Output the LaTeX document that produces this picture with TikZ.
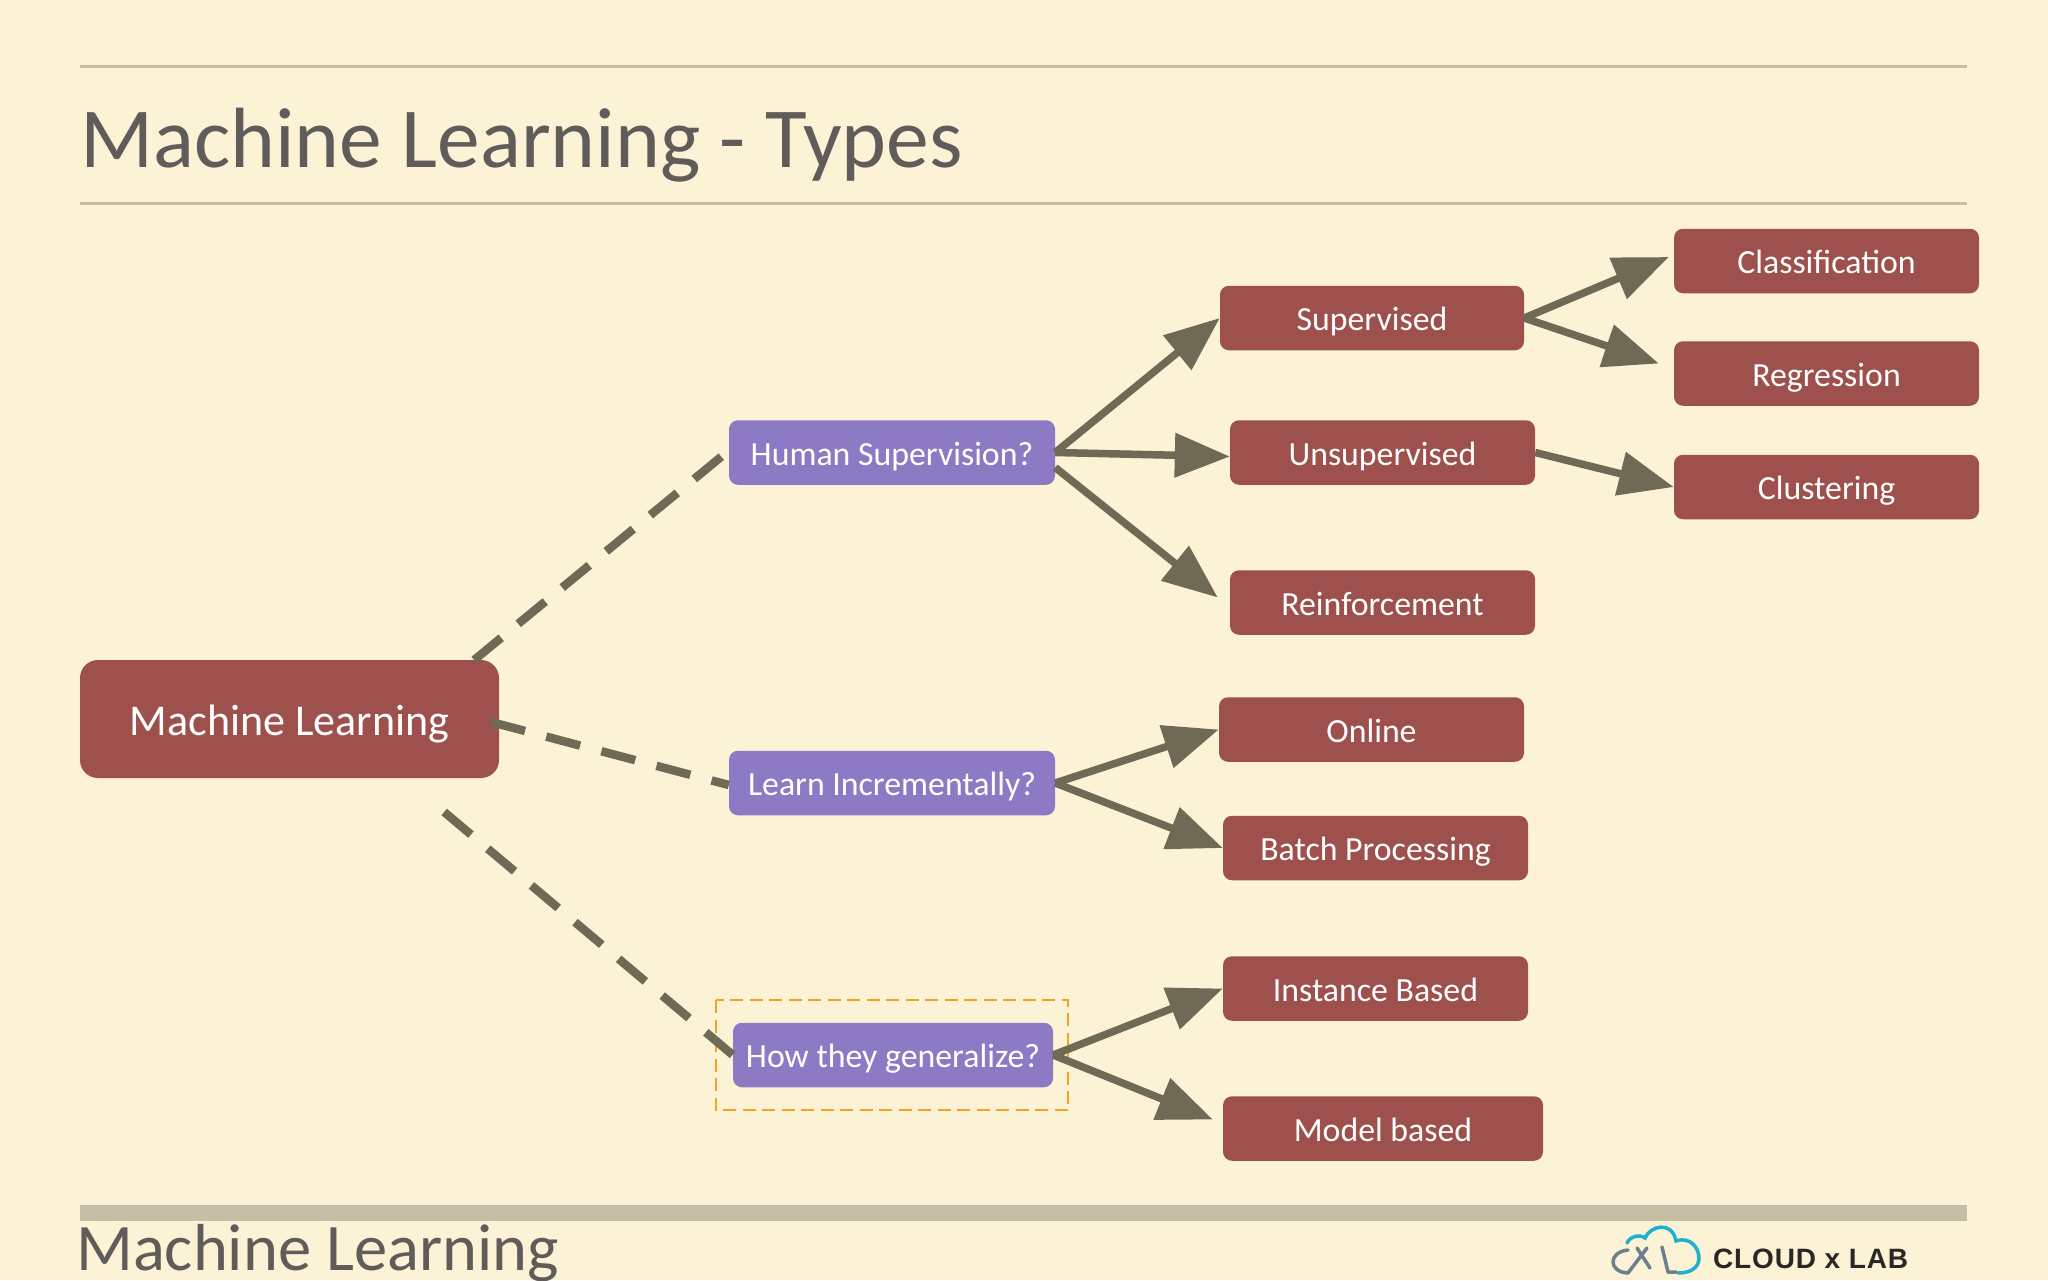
\documentclass[tikz,border=0pt]{standalone}
\usepackage{fontspec}
\setmainfont{Carlito}
\newfontfamily\logofont[LetterSpace=3]{Liberation Sans}
\usetikzlibrary{arrows.meta}
\definecolor{paper}{HTML}{FCF3D6}
\definecolor{rulec}{HTML}{C8BEA0}
\definecolor{bandc}{HTML}{C6BEA5}
\definecolor{titlec}{HTML}{5F5C5A}
\definecolor{brick}{HTML}{9E504C}
\definecolor{violet}{HTML}{8C7BC4}
\definecolor{olive}{HTML}{6F6A55}
\definecolor{dashor}{HTML}{F0A324}
\definecolor{cloudb}{HTML}{1FB0D0}
\definecolor{cloudg}{HTML}{6C7F8E}
\definecolor{logot}{HTML}{2A2826}
\tikzset{
  box/.style={rounded corners=9pt, inner sep=0pt, text=white, align=center,
    minimum height=64.5pt, font=\fontsize{33.8}{38}\selectfont, text height=26pt, text depth=1pt},
  redbox/.style={box, fill=brick},
  violetbox/.style={box, fill=violet},
  arrowline/.style={draw=olive, line width=7.5pt, -{Triangle[length=55pt,width=43pt]}},
  dashline/.style={draw=olive, line width=8.5pt, dash pattern=on 35pt off 22pt},
  rulefine/.style={draw=rulec, line width=2.5pt},
  cloudline/.style={draw=cloudb, line width=3.5pt, line cap=round},
  greyline/.style={draw=cloudg, line width=3.5pt, line cap=round, line join=round},
}
\begin{document}
\begin{tikzpicture}[x=1pt,y=-1pt]
\path[use as bounding box, fill=paper] (0,0) rectangle (2048,1280);
\clip (0,0) rectangle (2048,1280);
\draw[rulefine] (80,66.5) -- (1967,66.5);
\draw[rulefine] (80,203.5) -- (1967,203.5);
\fill[bandc] (80,1205) rectangle (1967,1221);
\node[anchor=base west, inner sep=0pt, text=titlec, font=\fontsize{85.5}{95}\selectfont] (title) at (80,167) {Machine Learning - Types};
\node[anchor=base west, inner sep=0pt, text=titlec, font=\fontsize{66.5}{76}\selectfont] (foot) at (76,1270) {Machine Learning};
% main nodes
\node[redbox, minimum width=419pt, minimum height=118pt, rounded corners=18pt, font=\fontsize{44}{50}\selectfont, text height=35pt, text depth=3pt] (ml) at (289.5,719) {Machine Learning};
\node[violetbox, minimum width=326pt] (hs) at (892,452.5) {Human Supervision?};
\node[violetbox, minimum width=326pt] (li) at (892,783) {Learn Incrementally?};
\node[violetbox, minimum width=320pt] (hg) at (893,1055) {How they generalize?};
\draw[draw=dashor, line width=2.8pt, dash pattern=on 13pt off 6.5pt] (716,1000) rectangle (1068,1110);
\node[redbox, minimum width=304pt] (sup) at (1372,318) {Supervised};
\node[redbox, minimum width=305pt] (uns) at (1382.5,452.5) {Unsupervised};
\node[redbox, minimum width=305pt] (rei) at (1382.5,602.5) {Reinforcement};
\node[redbox, minimum width=305pt] (cla) at (1826.5,261) {Classification};
\node[redbox, minimum width=305pt] (reg) at (1826.5,373.5) {Regression};
\node[redbox, minimum width=305pt] (clu) at (1826.5,487) {Clustering};
\node[redbox, minimum width=305pt] (onl) at (1371.5,729.5) {Online};
\node[redbox, minimum width=305pt] (bat) at (1375.5,848) {Batch Processing};
\node[redbox, minimum width=305pt] (ins) at (1375.5,988.5) {Instance Based};
\node[redbox, minimum width=320pt] (mod) at (1383,1128.5) {Model based};
% dashed links
\draw[dashline] ([shift={(-25,-59)}]ml.east) -- ([shift={(0,-2)}]hs.west);
\draw[dashline] ([shift={(-8,3)}]ml.east) -- ([shift={(0,2)}]li.west);
\draw[dashline] ([shift={(-55,93)}]ml.east) -- (hg.west);
% arrows
\draw[arrowline] (hs.east) -- (sup.west);
\draw[arrowline] (hs.east) -- ([shift={(0,4)}]uns.west);
\draw[arrowline] ([shift={(0,15)}]hs.east) -- ([shift={(-12,-5)}]rei.west);
\draw[arrowline] (li.east) -- (onl.west);
\draw[arrowline] (li.east) -- (bat.west);
\draw[arrowline] (hg.east) -- (ins.west);
\draw[arrowline] (hg.east) -- ([shift={(-10,-9)}]mod.west);
\draw[arrowline] (sup.east) -- ([shift={(-5,-4)}]cla.west);
\draw[arrowline] (sup.east) -- ([shift={(-15,-10)}]reg.west);
\draw[arrowline] (uns.east) -- (clu.west);
% logo
\draw[cloudline] (1627,1243) .. controls (1630,1236) and (1640,1234) .. (1645,1238)
  .. controls (1650,1226) and (1672,1220) .. (1676,1241)
  .. controls (1690,1236) and (1699,1248) .. (1699,1258)
  .. controls (1699,1268) and (1690,1273) .. (1678,1273);
\draw[greyline] (1628,1250) .. controls (1608,1252) and (1608,1272) .. (1628,1273);
\draw[greyline] (1628,1273) -- (1647,1248);
\draw[greyline] (1637,1248) -- (1650,1268);
\draw[greyline] (1662,1247) -- (1668,1272) -- (1676,1272);
\node[anchor=base west, inner sep=0pt, text=logot, font=\logofont\bfseries\fontsize{28}{32}\selectfont] (logo) at (1713,1268) {CLOUD x LAB};
\end{tikzpicture}
\end{document}
